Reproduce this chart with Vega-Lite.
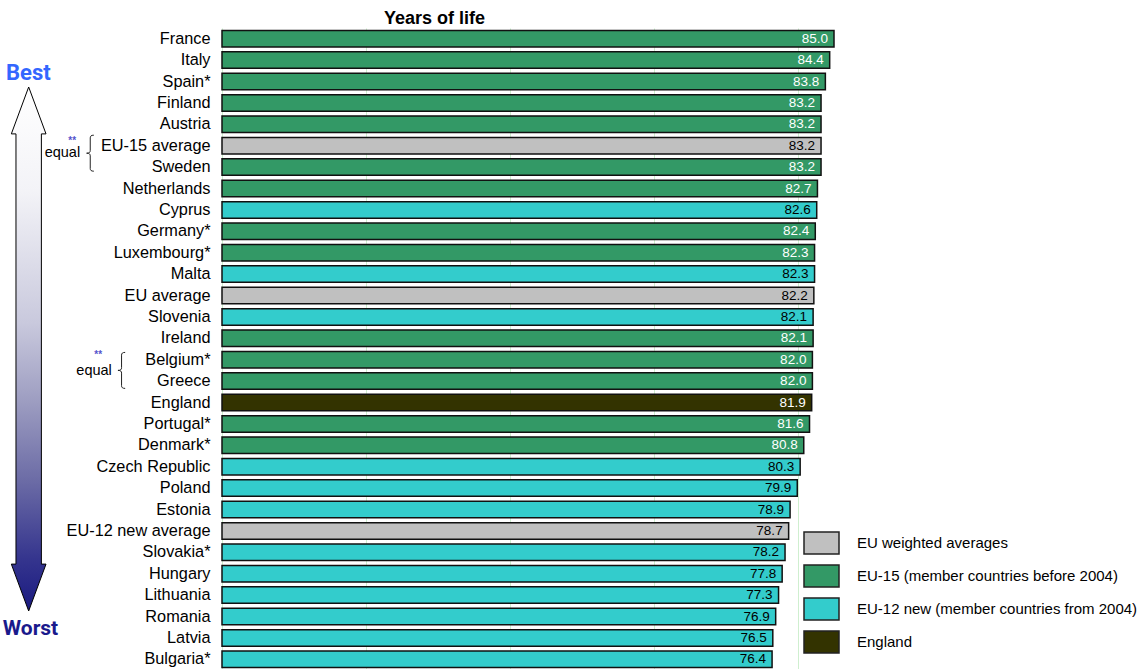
{
  "$schema": "https://vega.github.io/schema/vega-lite/v6.json",
  "autosize": {"type": "none"},
  "padding": {"left": 222, "top": 28, "right": 198, "bottom": 0},
  "width": 720,
  "height": 642,
  "background": "white",
  "title": {
    "text": "Years of life",
    "anchor": "start",
    "frame": "group",
    "dx": 162,
    "dy": 18,
    "baseline": "alphabetic",
    "offset": 4,
    "font": "Liberation Sans",
    "fontSize": 18,
    "fontWeight": "bold",
    "color": "black"
  },
  "config": {
    "view": {"stroke": null},
    "font": "Liberation Sans"
  },
  "datasets": {
    "rates": [
      {"country": "France", "years": 85.0, "group": "EU-15 (member countries before 2004)"},
      {"country": "Italy", "years": 84.4, "group": "EU-15 (member countries before 2004)"},
      {"country": "Spain*", "years": 83.8, "group": "EU-15 (member countries before 2004)"},
      {"country": "Finland", "years": 83.2, "group": "EU-15 (member countries before 2004)"},
      {"country": "Austria", "years": 83.2, "group": "EU-15 (member countries before 2004)"},
      {"country": "EU-15 average", "years": 83.2, "group": "EU weighted averages"},
      {"country": "Sweden", "years": 83.2, "group": "EU-15 (member countries before 2004)"},
      {"country": "Netherlands", "years": 82.7, "group": "EU-15 (member countries before 2004)"},
      {"country": "Cyprus", "years": 82.6, "group": "EU-12 new (member countries from 2004)"},
      {"country": "Germany*", "years": 82.4, "group": "EU-15 (member countries before 2004)"},
      {"country": "Luxembourg*", "years": 82.3, "group": "EU-15 (member countries before 2004)"},
      {"country": "Malta", "years": 82.3, "group": "EU-12 new (member countries from 2004)"},
      {"country": "EU average", "years": 82.2, "group": "EU weighted averages"},
      {"country": "Slovenia", "years": 82.1, "group": "EU-12 new (member countries from 2004)"},
      {"country": "Ireland", "years": 82.1, "group": "EU-15 (member countries before 2004)"},
      {"country": "Belgium*", "years": 82.0, "group": "EU-15 (member countries before 2004)"},
      {"country": "Greece", "years": 82.0, "group": "EU-15 (member countries before 2004)"},
      {"country": "England", "years": 81.9, "group": "England"},
      {"country": "Portugal*", "years": 81.6, "group": "EU-15 (member countries before 2004)"},
      {"country": "Denmark*", "years": 80.8, "group": "EU-15 (member countries before 2004)"},
      {"country": "Czech Republic", "years": 80.3, "group": "EU-12 new (member countries from 2004)"},
      {"country": "Poland", "years": 79.9, "group": "EU-12 new (member countries from 2004)"},
      {"country": "Estonia", "years": 78.9, "group": "EU-12 new (member countries from 2004)"},
      {"country": "EU-12 new average", "years": 78.7, "group": "EU weighted averages"},
      {"country": "Slovakia*", "years": 78.2, "group": "EU-12 new (member countries from 2004)"},
      {"country": "Hungary", "years": 77.8, "group": "EU-12 new (member countries from 2004)"},
      {"country": "Lithuania", "years": 77.3, "group": "EU-12 new (member countries from 2004)"},
      {"country": "Romania", "years": 76.9, "group": "EU-12 new (member countries from 2004)"},
      {"country": "Latvia", "years": 76.5, "group": "EU-12 new (member countries from 2004)"},
      {"country": "Bulgaria*", "years": 76.4, "group": "EU-12 new (member countries from 2004)"}
    ],
    "notes": [
      {"kind": "arrow", "label": "", "ax": -26.85, "ay": 15.0},
      {"kind": "best", "label": "Best", "ax": -26.9, "ay": 2.1},
      {"kind": "worst", "label": "Worst", "ax": -26.6, "ay": 28.1},
      {"kind": "brace", "label": "", "ax": -18.3, "ay": 5.85},
      {"kind": "brace", "label": "", "ax": -13.95, "ay": 16.0},
      {"kind": "equal", "label": "equal", "ax": -19.7, "ay": 6.04},
      {"kind": "equal", "label": "equal", "ax": -15.3, "ay": 16.2},
      {"kind": "stars", "label": "**", "ax": -20.8, "ay": 5.27},
      {"kind": "stars", "label": "**", "ax": -17.2, "ay": 15.27}
    ]
  },
  "layer": [
    {
      "data": {"name": "rates"},
      "encoding": {
        "y": {
          "field": "country",
          "type": "nominal",
          "sort": null,
          "scale": {"paddingInner": 0.23, "paddingOuter": 0.115},
          "axis": {
            "title": null,
            "ticks": false,
            "domain": false,
            "labelFont": "Liberation Sans",
            "labelFontSize": 16.3,
            "labelColor": "black",
            "labelPadding": 12,
            "labelLimit": 300
          }
        },
        "x": {
          "field": "years",
          "type": "quantitative",
          "scale": {"domain": [0, 100], "nice": false, "zero": true},
          "axis": {
            "title": null,
            "values": [0, 20, 40, 60, 80],
            "labels": false,
            "ticks": false,
            "domain": false,
            "grid": true,
            "gridColor": "#cfefcf",
            "gridWidth": 1
          }
        }
      },
      "layer": [
        {
          "mark": {"type": "bar", "stroke": "#111111", "strokeWidth": 1.5},
          "encoding": {
            "color": {
              "field": "group",
              "type": "nominal",
              "scale": {
                "domain": [
                  "EU weighted averages",
                  "EU-15 (member countries before 2004)",
                  "EU-12 new (member countries from 2004)",
                  "England"
                ],
                "range": ["#c0c0c0", "#339966", "#33cccc", "#333300"]
              },
              "legend": {
                "title": null,
                "orient": "none",
                "legendX": 581,
                "legendY": 496.5,
                "padding": 0,
                "symbolType": "M-1,-0.63H1V0.63H-1Z",
                "symbolSize": 1225,
                "symbolStrokeColor": "#222222",
                "symbolStrokeWidth": 1.5,
                "symbolOpacity": 1,
                "rowPadding": -3,
                "labelOffset": 17,
                "labelFont": "Liberation Sans",
                "labelFontSize": 15,
                "labelColor": "black",
                "labelLimit": 400
              }
            }
          }
        },
        {
          "mark": {
            "type": "text",
            "align": "right",
            "baseline": "middle",
            "dx": -6,
            "font": "Liberation Sans",
            "fontSize": 13.5
          },
          "encoding": {
            "text": {"field": "years", "type": "quantitative", "format": ".1f"},
            "color": {
              "condition": {
                "test": "datum.group === 'England' || datum.group === 'EU-15 (member countries before 2004)'",
                "value": "white"
              },
              "value": "black"
            }
          }
        }
      ]
    },
    {
      "data": {"name": "notes"},
      "transform": [{"filter": "datum.kind === 'arrow'"}],
      "mark": {
        "type": "point",
        "shape": "M0,-1L0.0662,-0.821L0.0485,-0.821L0.0485,0.821L0.0662,0.821L0,1L-0.0662,0.821L-0.0485,0.821L-0.0485,-0.821L-0.0662,-0.821Z",
        "size": 274576,
        "filled": true,
        "opacity": 1,
        "fill": {
          "gradient": "linear",
          "x1": 0, "y1": 0, "x2": 0, "y2": 1,
          "stops": [
            {"offset": 0, "color": "#ffffff"},
            {"offset": 0.2, "color": "#f3f3f7"},
            {"offset": 0.45, "color": "#c9c9dd"},
            {"offset": 0.6, "color": "#9d9dc1"},
            {"offset": 0.75, "color": "#6c6ca6"},
            {"offset": 0.9, "color": "#35358e"},
            {"offset": 1, "color": "#1a1a80"}
          ]
        },
        "stroke": "black",
        "strokeWidth": 1
      },
      "encoding": {
        "x": {"field": "ax", "type": "quantitative"},
        "y": {"field": "ay", "type": "quantitative", "scale": {"domain": [0, 30], "reverse": true, "nice": false, "zero": false}, "axis": null}
      }
    },
    {
      "data": {"name": "notes"},
      "transform": [{"filter": "datum.kind === 'brace'"}],
      "mark": {
        "type": "point",
        "shape": "M0.2,-1C0.05,-1 0,-0.95 0,-0.85L0,-0.15C0,-0.05 -0.05,0 -0.2,0C-0.05,0 0,0.05 0,0.15L0,0.85C0,0.95 0.05,1 0.2,1",
        "size": 1296,
        "filled": false,
        "opacity": 1,
        "color": "#222222",
        "strokeWidth": 1
      },
      "encoding": {
        "x": {"field": "ax", "type": "quantitative"},
        "y": {"field": "ay", "type": "quantitative", "scale": {"domain": [0, 30], "reverse": true, "nice": false, "zero": false}, "axis": null}
      }
    },
    {
      "data": {"name": "notes"},
      "transform": [{"filter": "datum.kind === 'equal'"}],
      "mark": {"type": "text", "align": "right", "baseline": "alphabetic", "font": "Liberation Sans", "fontSize": 14.5, "color": "black"},
      "encoding": {
        "x": {"field": "ax", "type": "quantitative"},
        "y": {"field": "ay", "type": "quantitative", "scale": {"domain": [0, 30], "reverse": true, "nice": false, "zero": false}, "axis": null},
        "text": {"field": "label"}
      }
    },
    {
      "data": {"name": "notes"},
      "transform": [{"filter": "datum.kind === 'stars'"}],
      "mark": {"type": "text", "align": "center", "baseline": "middle", "font": "Liberation Sans", "fontSize": 10, "fontWeight": "bold", "color": "#5555cc"},
      "encoding": {
        "x": {"field": "ax", "type": "quantitative"},
        "y": {"field": "ay", "type": "quantitative", "scale": {"domain": [0, 30], "reverse": true, "nice": false, "zero": false}, "axis": null},
        "text": {"field": "label"}
      }
    },
    {
      "data": {"name": "notes"},
      "transform": [{"filter": "datum.kind === 'best'"}],
      "mark": {"type": "text", "align": "center", "baseline": "middle", "font": "Roboto", "fontSize": 22, "fontWeight": "bold", "color": "#3366ff"},
      "encoding": {
        "x": {"field": "ax", "type": "quantitative"},
        "y": {"field": "ay", "type": "quantitative", "scale": {"domain": [0, 30], "reverse": true, "nice": false, "zero": false}, "axis": null},
        "text": {"field": "label"}
      }
    },
    {
      "data": {"name": "notes"},
      "transform": [{"filter": "datum.kind === 'worst'"}],
      "mark": {"type": "text", "align": "center", "baseline": "middle", "font": "Roboto", "fontSize": 21, "fontWeight": "bold", "color": "#1a1a8c"},
      "encoding": {
        "x": {"field": "ax", "type": "quantitative"},
        "y": {"field": "ay", "type": "quantitative", "scale": {"domain": [0, 30], "reverse": true, "nice": false, "zero": false}, "axis": null},
        "text": {"field": "label"}
      }
    }
  ],
  "resolve": {"scale": {"y": "independent"}, "axis": {"y": "independent"}}
}
